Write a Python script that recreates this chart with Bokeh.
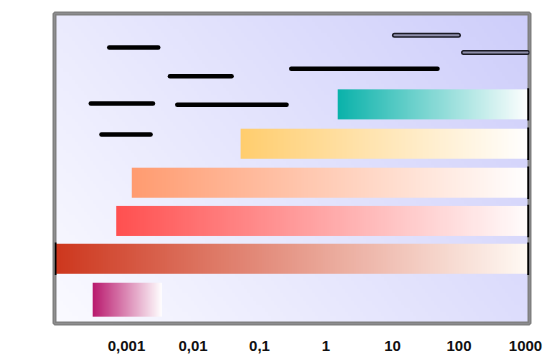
import numpy as np
from bokeh.plotting import figure
from bokeh.models import Range1d, FixedTicker, CustomJSTickFormatter
from bokeh.embed import file_html
from bokeh.resources import INLINE

# ---------------- data ----------------
tick_values = [0.001, 0.01, 0.1, 1, 10, 100, 1000]
tick_labels = ["0,001", "0,01", "0,1", "1", "10", "100", "1000"]

# gradient bars (top to bottom)
bar_rows = [6.01, 5.0, 4.0, 3.02, 2.05, 1.0]
bar_starts = [1.5, 0.052, 0.0012, 0.0007, 0.0000855, 0.00031]
bar_ends = [1100, 1100, 1100, 1100, 1100, 0.0034]
bar_heights = [0.77, 0.77, 0.77, 0.77, 0.77, 0.87]
bar_colors = [(10, 178, 170), (255, 205, 110), (255, 155, 112),
              (255, 80, 80), (205, 55, 30), (185, 25, 110)]
bar_fade_to = [(255, 255, 255), (255, 255, 255), (255, 255, 255),
               (255, 252, 252), (255, 250, 244), (255, 255, 255)]

# black range lines
line_rows = [7.47, 6.73, 6.03, 6.0, 5.24, 6.92]
line_starts = [0.00055, 0.0045, 0.00029, 0.0058, 0.00042, 0.30]
line_ends = [0.003, 0.038, 0.0025, 0.255, 0.0023, 47.5]

# outlined range lines
outlined_rows = [7.78, 7.34]
outlined_starts = [10.7, 117]
outlined_ends = [98, 1072]

# ---------------- figure ----------------
X_LO, X_HI = 10 ** -4.083, 10 ** 3.06
Y_LO, Y_HI = 0.39, 8.34

p = figure(width=552, height=358, x_axis_type="log",
           x_range=Range1d(X_LO, X_HI), y_range=Range1d(Y_LO, Y_HI),
           output_backend="svg", toolbar_location=None,
           min_border_left=54, min_border_right=23,
           min_border_top=13, min_border_bottom=35)
p.yaxis.visible = False
p.xgrid.visible = False
p.ygrid.visible = False
p.background_fill_color = "#e6e6fb"
p.border_fill_color = "white"
p.outline_line_color = "#808080"
p.outline_line_width = 4


def rgba_image(h, w, rgb):
    img = np.empty((h, w), dtype=np.uint32)
    view = img.view(dtype=np.uint8).reshape((h, w, 4))
    view[:, :, 0] = rgb[..., 0]
    view[:, :, 1] = rgb[..., 1]
    view[:, :, 2] = rgb[..., 2]
    view[:, :, 3] = 255
    return img


# background gradient (white bottom-left -> lavender top-right)
H, W = 80, 160
u = np.linspace(0, 1, W)[None, :]
v = np.linspace(0, 1, H)[:, None]
t = 0.65 * u + 0.35 * v
c0 = np.array([250, 250, 255], dtype=float)
c1 = np.array([205, 205, 250], dtype=float)
bg = c0[None, None, :] + (c1 - c0)[None, None, :] * t[:, :, None]
p.image_rgba(image=[rgba_image(H, W, bg.round().astype(np.uint8))],
             x=X_LO, y=Y_LO, dw=X_HI - X_LO, dh=Y_HI - Y_LO)

# inner half of the frame border (outline draws the outer half)
p.quad(left=[X_LO], right=[X_HI], bottom=[Y_LO], top=[Y_HI],
       fill_color=None, line_color="#808080", line_width=4)

# gradient bars
imgs, xs, ys, dws, dhs = [], [], [], [], []
N = 200
for r, s, e, h, c, f in zip(bar_rows, bar_starts, bar_ends, bar_heights, bar_colors, bar_fade_to):
    tt = np.linspace(0, 1, N)[None, :, None]
    a = np.array(c, dtype=float)[None, None, :]
    b = np.array(f, dtype=float)[None, None, :]
    col = (a + (b - a) * tt).round().astype(np.uint8)
    imgs.append(rgba_image(1, N, col))
    xs.append(s)
    ys.append(r - h / 2)
    dws.append(e - s)
    dhs.append(h)
p.image_rgba(image=imgs, x=xs, y=ys, dw=dws, dh=dhs)

# black end marks on the long bars
long_idx = [i for i in range(len(bar_rows)) if bar_ends[i] >= 1000]
p.segment(x0=[bar_ends[i] for i in long_idx],
          y0=[bar_rows[i] - bar_heights[i] / 2 - 0.03 for i in long_idx],
          x1=[bar_ends[i] for i in long_idx],
          y1=[bar_rows[i] + bar_heights[i] / 2 + 0.03 for i in long_idx],
          line_color="black", line_width=2)
p.segment(x0=[bar_starts[4]], y0=[bar_rows[4] - bar_heights[4] / 2 - 0.03],
          x1=[bar_starts[4]], y1=[bar_rows[4] + bar_heights[4] / 2 + 0.03],
          line_color="black", line_width=2)

# black range lines
p.segment(x0=line_starts, y0=line_rows, x1=line_ends, y1=line_rows,
          line_color="black", line_width=4.5, line_cap="round")

# outlined range lines
p.segment(x0=outlined_starts, y0=outlined_rows, x1=outlined_ends, y1=outlined_rows,
          line_color="#1a1a24", line_width=5, line_cap="round")
p.segment(x0=outlined_starts, y0=outlined_rows, x1=outlined_ends, y1=outlined_rows,
          line_color="#8e8eaa", line_width=2, line_cap="round")

# axis
p.xaxis.ticker = FixedTicker(ticks=tick_values, minor_ticks=[])
p.xaxis.formatter = CustomJSTickFormatter(
    args=dict(vals=tick_values, labs=tick_labels),
    code="""
    for (let i = 0; i < vals.length; i++) {
        if (Math.abs(Math.log10(tick) - Math.log10(vals[i])) < 1e-6) return labs[i];
    }
    return "";
    """)
p.xaxis.axis_line_color = None
p.xaxis.major_tick_line_color = None
p.xaxis.minor_tick_line_color = None
p.xaxis.major_label_standoff = 11
p.xaxis.major_label_text_font = "Liberation Sans"
p.xaxis.major_label_text_font_style = "bold"
p.xaxis.major_label_text_font_size = "15px"
p.xaxis.major_label_text_color = "#111111"

open("out.html", "w").write(file_html(p, INLINE))
